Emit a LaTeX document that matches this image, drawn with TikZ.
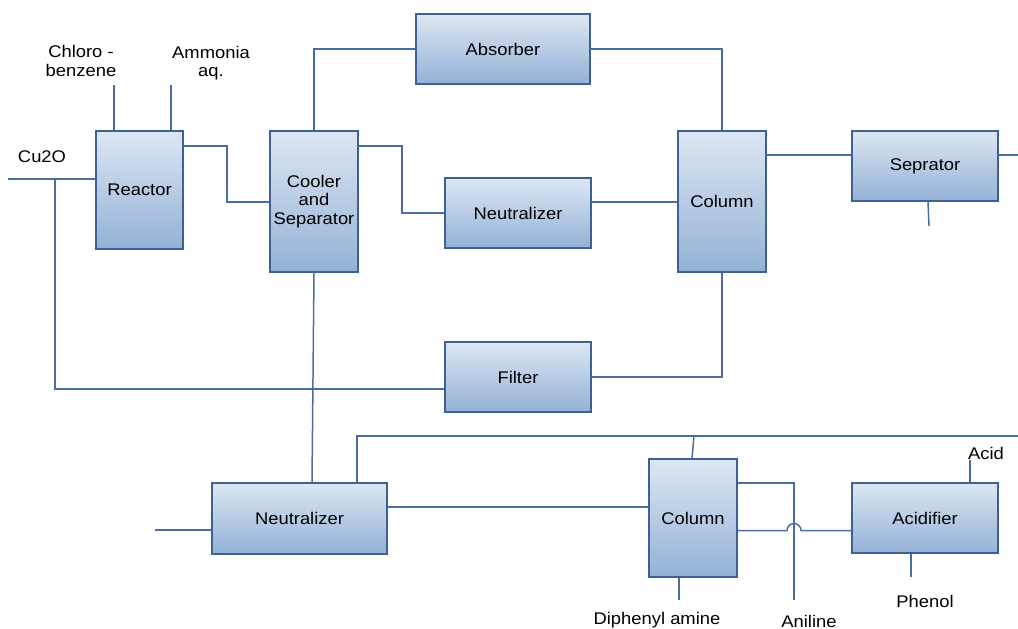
\documentclass[tikz,border=0pt]{standalone}
\usepackage{fontspec}
\setmainfont{Liberation Sans}[FakeStretch=1.09]
\definecolor{pipeblue}{RGB}{74,110,160}
\definecolor{rim}{RGB}{62,96,146}
\definecolor{boxtop}{RGB}{221,231,243}
\definecolor{boxbot}{RGB}{147,177,214}
\begin{document}
\begin{tikzpicture}[x=0.2mm, y=-0.2mm,
  unit/.style={draw=rim, line width=1pt, top color=boxtop, bottom color=boxbot, align=center, inner sep=1pt,
               font=\fontsize{9.6}{10.6}\selectfont},
  wide/.style={unit, minimum width=29.2mm, minimum height=14mm},
  tall/.style={unit, minimum width=17.6mm, minimum height=28.2mm},
  pipe/.style={draw=pipeblue, line width=0.85pt},
  lbl/.style={font=\fontsize{9.6}{10.6}\selectfont, align=center}]
\useasboundingbox (0,0) rectangle (1018,628);
% units
\node[unit, minimum width=17.4mm, minimum height=23.6mm] (reactor) at (139.5,190) {Reactor};
\node[tall] (cooler) at (314,201.5) {Cooler\\and\\Separator};
\node[wide, minimum width=34.8mm] (absorber) at (503,49) {Absorber};
\node[wide] (neut) at (518,213) {Neutralizer};
\node[tall] (colt) at (722,201.5) {Column};
\node[wide] (sep) at (925,166) {Seprator};
\node[wide] (filter) at (518,377) {Filter};
\node[wide, minimum width=35mm, minimum height=14.2mm] (neub) at (299.5,518.5) {Neutralizer};
\node[unit, minimum width=17.6mm, minimum height=23.6mm] (colb) at (693,518) {Column};
\node[wide] (acid) at (925,518) {Acidifier};
% stream labels
\node[lbl] (lcu) at (42,157) {Cu2O};
\node[lbl] (lchloro) at (81,61) {Chloro -\\benzene};
\node[lbl] (lammonia) at (211,63) {Ammonia\\aq.};
\node[lbl] (lacid) at (986,453) {Acid};
\node[lbl] (lphenol) at (925,601) {Phenol};
\node[lbl] (laniline) at (809,621) {Aniline};
\node[lbl] (ldpa) at (657,620) {Diphenyl amine};
% free ends
\foreach \n/\x/\y in {cuin/8/179, tap/55/179, chloroin/114/85, nh3in/171/85, sepout/1018/155,
                      sepdrain/929/226, recycle/1018/436, tee/694/436, feed/155/530,
                      aniline/794/600, dpa/679/600, acidin/970/460, phenol/911/577}
  \coordinate (\n) at (\x,\y);
% streams
\draw[pipe] (cuin) -- (reactor.west |- cuin);
\draw[pipe] (tap) |- (filter.west |- 0,389);
\draw[pipe] (chloroin) -- (reactor.north -| chloroin);
\draw[pipe] (nh3in) -- (reactor.north -| nh3in);
\draw[pipe] (reactor.east |- 0,146) -| (227,202) -- (cooler.west |- 0,202);
\draw[pipe] (cooler.north) |- (absorber.west);
\draw[pipe] (absorber.east) -| (colt.north);
\draw[pipe] (cooler.east |- 0,146) -| (402,213) -- (neut.west);
\draw[pipe] (neut.east |- 0,202) -- (colt.west |- 0,202);
\draw[pipe] (colt.east |- 0,155) -- (sep.west |- 0,155);
\draw[pipe] (sep.east |- 0,155) -- (sepout);
\draw[pipe] (sep.south -| 928,0) -- (sepdrain);
\draw[pipe] (colt.south) |- (filter.east);
\draw[pipe] (cooler.south) -- (neub.north -| 312,0);
\draw[pipe] (neub.north -| 357,0) |- (recycle);
\draw[pipe] (tee) -- (colb.north -| 692,0);
\draw[pipe] (feed) -- (neub.west |- feed);
\draw[pipe] (neub.east |- 0,507) -- (colb.west |- 0,507);
\draw[pipe] (colb.east |- 0,483) -| (aniline);
\draw[pipe] (colb.east |- 0,530.5) -- (787,530.5) arc[start angle=180, end angle=0, radius=1.4mm] -- (acid.west |- 0,530.5);
\draw[pipe] (colb.south -| dpa) -- (dpa);
\draw[pipe] (acid.north -| acidin) -- (acidin);
\draw[pipe] (acid.south -| phenol) -- (phenol);
\end{tikzpicture}
\end{document}
